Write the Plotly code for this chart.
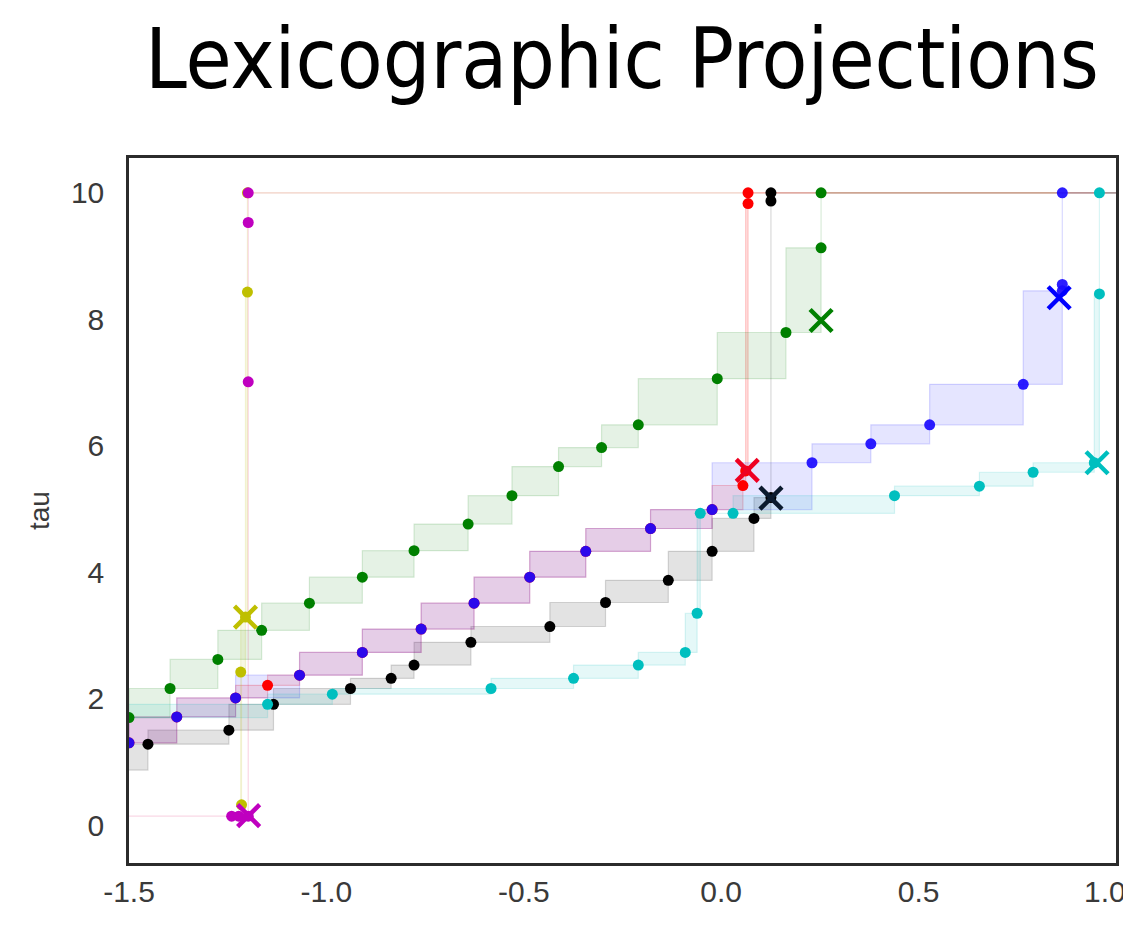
import plotly.graph_objects as go

# ---- data ----
black_x = [-1.53, -1.452, -1.247, -1.134, -0.939, -0.836, -0.778, -0.634, -0.434, -0.293, -0.134, -0.023, 0.083, 0.126, 0.126, 0.126, 1.05]
black_tau = [0.87, 1.28, 1.50, 1.91, 2.16, 2.32, 2.53, 2.89, 3.14, 3.52, 3.87, 4.33, 4.85, 5.18, 9.87, 10.0, 10.0]
black_proj = (0.126, 5.17)

red_x = [-1.50, -1.379, -1.230, -1.149, -1.068, -0.909, -0.760, -0.626, -0.485, -0.343, -0.179, -0.023, 0.055, 0.062, 0.068, 0.068, 1.05]
red_tau = [1.30, 1.71, 2.01, 2.21, 2.37, 2.73, 3.10, 3.51, 3.92, 4.33, 4.69, 4.99, 5.37, 5.60, 9.83, 10.0, 10.0]
red_proj = (0.066, 5.61)

blue_x = [-1.50, -1.379, -1.230, -1.068, -0.909, -0.760, -0.626, -0.485, -0.343, -0.179, -0.023, 0.230, 0.379, 0.528, 0.765, 0.864, 0.864, 0.864, 1.05]
blue_tau = [1.30, 1.71, 2.01, 2.37, 2.73, 3.10, 3.51, 3.92, 4.33, 4.69, 4.99, 5.73, 6.03, 6.33, 6.97, 8.45, 8.55, 10.0, 10.0]
blue_proj = (0.856, 8.34)

green_x = [-1.50, -1.396, -1.275, -1.164, -1.043, -0.909, -0.778, -0.641, -0.530, -0.412, -0.303, -0.210, -0.010, 0.164, 0.253, 0.253, 1.05]
green_tau = [1.70, 2.16, 2.62, 3.08, 3.51, 3.92, 4.34, 4.76, 5.21, 5.67, 5.97, 6.33, 7.06, 7.79, 9.13, 10.0, 10.0]
green_proj = (0.253, 7.98)

cyan_x = [-1.55, -1.149, -0.985, -0.583, -0.374, -0.210, -0.091, -0.061, -0.053, 0.030, 0.439, 0.654, 0.790, 0.945, 0.958, 0.958, 1.05]
cyan_tau = [1.70, 1.91, 2.07, 2.16, 2.32, 2.53, 2.73, 3.35, 4.93, 4.93, 5.21, 5.36, 5.58, 5.73, 8.40, 10.0, 10.0]
cyan_proj = (0.952, 5.73)

yellow_x = [-1.215, -1.217, -1.205, -1.200, -1.200, 1.05]
yellow_tau = [0.32, 2.42, 3.29, 8.43, 10.0, 10.0]
yellow_proj = (-1.205, 3.29)

magenta_x = [-1.55, -1.240, -1.222, -1.198, -1.198, -1.198, -1.198, 1.05]
magenta_tau = [0.14, 0.14, 0.14, 0.14, 7.01, 9.53, 10.0, 10.0]
magenta_proj = (-1.197, 0.15)

x_ticks = [-1.5, -1.0, -0.5, 0.0, 0.5, 1.0]
x_tick_labels = ["-1.5", "-1.0", "-0.5", "0.0", "0.5", "1.0"]
y_ticks = [0, 2, 4, 6, 8, 10]

series = [
    ("k", black_x, black_tau, black_proj, (0, 0, 0), "#0b1a2e"),
    ("r", red_x, red_tau, red_proj, (255, 0, 0), "#ee0022"),
    ("b", blue_x, blue_tau, blue_proj, (0, 0, 255), "#0000ff"),
    ("g", green_x, green_tau, green_proj, (0, 128, 0), "#008000"),
    ("c", cyan_x, cyan_tau, cyan_proj, (0, 191, 191), "#00bfbf"),
    ("y", yellow_x, yellow_tau, yellow_proj, (191, 191, 0), "#bfbf00"),
    ("m", magenta_x, magenta_tau, magenta_proj, (191, 0, 191), "#bf00bf"),
]

fig = go.Figure()


def boxes(xs, ys):
    bx, by = [], []
    for i in range(len(xs) - 1):
        x0, x1, y0, y1 = xs[i], xs[i + 1], ys[i], ys[i + 1]
        bx += [x0, x1, x1, x0, x0, None]
        by += [y0, y0, y1, y1, y0, None]
    return bx, by


for name, xs, ys, proj, rgb, col in series:
    bx, by = boxes(xs, ys)
    r, g, b = rgb
    fa = 0.11 if name == "k" else 0.1
    linec = f"rgba({r},{g},{b},0.15)"
    if name == "m":
        linec = "rgba(225,40,110,0.18)"
    if name == "r":
        linec = "rgba(255,0,0,0.2)"
    fig.add_trace(go.Scatter(
        x=bx, y=by, mode="lines", fill="toself",
        fillcolor=f"rgba({r},{g},{b},{fa})",
        line=dict(color=linec, width=1.2),
        hoverinfo="skip", showlegend=False,
    ))

for name, xs, ys, proj, rgb, col in series:
    mc = "#1a0aff" if name == "b" else ("#000000" if name == "k" else ("#ff0000" if name == "r" else col))
    fig.add_trace(go.Scatter(
        x=xs, y=ys, mode="markers",
        marker=dict(size=11, color=mc, opacity=0.92 if name == "b" else 1.0),
        hoverinfo="skip", showlegend=False,
    ))

for name, xs, ys, proj, rgb, col in series:
    fig.add_trace(go.Scatter(
        x=[proj[0]], y=[proj[1]], mode="markers",
        marker=dict(symbol="x-thin", size=22, line=dict(width=4.5, color=col)),
        hoverinfo="skip", showlegend=False,
    ))

tickfont = dict(family="Liberation Sans, Arial", size=30, color="#3a3a3a")

# last x tick label is placed as an annotation ending at the plot edge so it stays fully visible
axis_ticktext = x_tick_labels[:-1] + [""]
fig.add_annotation(
    x=x_ticks[-1], xref="x", y=0, yref="paper",
    text=x_tick_labels[-1], showarrow=False,
    xanchor="right", yanchor="middle", xshift=12, yshift=-28,
    font=tickfont,
)

fig.update_layout(
    width=1123, height=921,
    margin=dict(l=121, r=15, t=150, b=66),
    paper_bgcolor="white", plot_bgcolor="white",
    title=dict(
        text="Lexicographic Projections",
        font=dict(family="DejaVu Sans Condensed, DejaVu Sans", size=83.5, color="black"),
        x=614 / 1123, xref="container", xanchor="center",
        y=0.945, yref="container", yanchor="middle",
    ),
    xaxis=dict(
        range=[-1.5, 1.0], tickvals=x_ticks, ticktext=axis_ticktext,
        showgrid=False, zeroline=False, automargin=False,
        showline=True, mirror=True, linecolor="#2b2b2b", linewidth=2.5,
        ticks="", tickfont=tickfont,
    ),
    yaxis=dict(
        range=[-0.6, 10.55], tickvals=y_ticks,
        showgrid=False, zeroline=False, automargin=False,
        showline=True, mirror=True, linecolor="#2b2b2b", linewidth=2.5,
        ticks="outside", ticklen=16, tickcolor="rgba(0,0,0,0)",
        tickfont=tickfont,
        title=dict(text="tau", font=dict(family="Liberation Sans, Arial", size=28, color="#3a3a3a"), standoff=14),
    ),
)

fig.write_html("out.html")
